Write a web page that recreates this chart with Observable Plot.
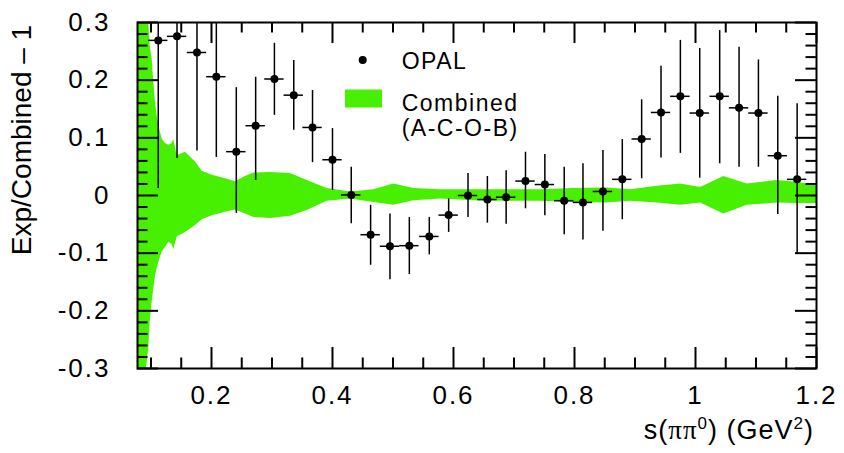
<!DOCTYPE html>
<html><head><meta charset="utf-8">
<script src="https://cdn.jsdelivr.net/npm/d3@7"></script>
<script src="https://cdn.jsdelivr.net/npm/@observablehq/plot@0.6"></script>
<style>
html,body{margin:0;padding:0;background:#fff;}
svg text{font-family:"Liberation Sans",Arial,Helvetica,sans-serif;}
</style></head><body><div id="chart"></div>
<script>
// OPAL points: bin centre, value, error-bar bottom, error-bar top
const opalX  = [0.112,0.143,0.176,0.208,0.241,0.273,0.304,0.336,0.367,0.400,0.431,0.463,0.495,0.527,0.560,0.592,0.624,0.656,0.687,0.719,0.751,0.783,0.814,0.847,0.879,0.911,0.943,0.975,1.007,1.040,1.072,1.104,1.136,1.168];
const opalY  = [0.269,0.276,0.248,0.206,0.076,0.121,0.202,0.174,0.118,0.062,0.001,-0.068,-0.088,-0.087,-0.071,-0.034,0.000,-0.007,-0.003,0.025,0.019,-0.009,-0.012,0.007,0.028,0.098,0.144,0.172,0.143,0.172,0.152,0.143,0.069,0.028];
const opalLo = [0.012,0.064,0.077,0.066,-0.031,0.026,0.139,0.113,0.057,0.009,-0.049,-0.121,-0.146,-0.137,-0.103,-0.064,-0.038,-0.048,-0.050,-0.023,-0.035,-0.068,-0.077,-0.062,-0.042,0.029,0.065,0.073,0.030,0.055,0.049,0.049,-0.033,-0.100];
const opalHi = [0.526,0.488,0.419,0.346,0.187,0.205,0.264,0.234,0.182,0.116,0.049,-0.017,-0.032,-0.038,-0.038,-0.006,0.038,0.033,0.043,0.075,0.071,0.049,0.055,0.078,0.097,0.166,0.224,0.269,0.255,0.286,0.257,0.235,0.172,0.159];
const opalHalfBin = 0.016;

// Combined (A-C-O-B) uncertainty band
const bandX  = [0.0777,0.0926,0.0964,0.0986,0.1019,0.1046,0.1074,0.1101,0.1129,0.1184,0.1239,0.1294,0.1350,0.1377,0.1433,0.157,0.1736,0.1846,0.2012,0.2231,0.2397,0.256,0.270,0.2975,0.3306,0.3582,0.3912,0.4298,0.4683,0.5013,0.5344,0.5785,0.6336,0.6888,0.7438,0.7989,0.854,0.8926,0.9367,0.9752,1.0083,1.0468,1.0855,1.135,1.168,1.2];
const bandLo = [-0.3,-0.3,-0.265,-0.22,-0.185,-0.162,-0.14,-0.127,-0.116,-0.098,-0.09,-0.081,-0.085,-0.094,-0.072,-0.064,-0.052,-0.042,-0.035,-0.029,-0.025,-0.032,-0.038,-0.04,-0.036,-0.026,-0.01,-0.006,-0.012,-0.017,-0.009,-0.006,-0.009,-0.01,-0.01,-0.012,-0.013,-0.01,-0.013,-0.017,-0.013,-0.032,-0.017,-0.013,-0.014,-0.014];
const bandHi = [0.3,0.3,0.3,0.26,0.237,0.196,0.162,0.139,0.121,0.098,0.09,0.087,0.09,0.097,0.069,0.075,0.058,0.042,0.035,0.029,0.024,0.033,0.039,0.04,0.038,0.026,0.012,0.006,0.01,0.02,0.012,0.01,0.01,0.01,0.01,0.012,0.013,0.01,0.016,0.02,0.014,0.033,0.02,0.026,0.023,0.017];

const xMajor = [0.2,0.4,0.6,0.8,1,1.2];
const xTickLabels = ["0.2","0.4","0.6","0.8","1","1.2"];
const xMinor = [0.1,0.15,0.25,0.3,0.35,0.45,0.5,0.55,0.65,0.7,0.75,0.85,0.9,0.95,1.05,1.1,1.15];
const yMajor = [-0.3,-0.2,-0.1,0,0.1,0.2,0.3];
const yTickLabels = ["-0.3","-0.2","-0.1","0","0.1","0.2","0.3"];
const yMinor = [-0.28,-0.26,-0.24,-0.22,-0.18,-0.16,-0.14,-0.12,-0.08,-0.06,-0.04,-0.02,0.02,0.04,0.06,0.08,0.12,0.14,0.16,0.18,0.22,0.24,0.26,0.28];
const xDomain = [0.0777, 1.2];
const yDomain = [-0.3, 0.3];
const green = "#47f000";

const W = 844, H = 453, mL = 137, mR = 28, mT = 22, mB = 85;
const fw = W - mL - mR, fh = H - mT - mB;
const majLen = 21, minLen = 10.5;

const opal = opalX.map((x, i) => ({x, y: opalY[i], lo: opalLo[i], hi: opalHi[i], x1: x - opalHalfBin, x2: x + opalHalfBin}));
const band = bandX.map((x, i) => ({x, lo: bandLo[i], hi: bandHi[i]}));
const tk = {stroke: "black", strokeWidth: 2};

const plot = Plot.plot({
  width: W, height: H,
  marginLeft: mL, marginRight: mR, marginTop: mT, marginBottom: mB,
  style: {fontSize: "26px", fontFamily: "'Liberation Sans', Arial, sans-serif", background: "white", color: "black", letterSpacing: "2px", overflow: "visible"},
  x: {domain: xDomain, ticks: xMajor, tickFormat: d => xTickLabels[xMajor.indexOf(d)], tickSize: 0, tickPadding: 17.5, label: null},
  y: {domain: yDomain, ticks: yMajor, tickFormat: d => yTickLabels[yMajor.indexOf(d)], tickSize: 0, tickPadding: 27, label: null, clamp: true},
  marks: [
    Plot.areaY(band, {x: "x", y1: "lo", y2: "hi", fill: green}),
    Plot.ruleX(opal, {x: "x", y1: "lo", y2: "hi", stroke: "black", strokeWidth: 1.5}),
    Plot.ruleY(opal, {y: "y", x1: "x1", x2: "x2", stroke: "black", strokeWidth: 1.5}),
    Plot.dot(opal, {x: "x", y: "y", r: 4, fill: "black"}),
    Plot.tickX(xMajor, {x: d => d, insetTop: fh - majLen, ...tk}),
    Plot.tickX(xMajor, {x: d => d, insetBottom: fh - majLen, ...tk}),
    Plot.tickX(xMinor, {x: d => d, insetTop: fh - minLen, ...tk}),
    Plot.tickX(xMinor, {x: d => d, insetBottom: fh - minLen, ...tk}),
    Plot.tickY(yMajor, {y: d => d, insetRight: fw - majLen, ...tk}),
    Plot.tickY(yMajor, {y: d => d, insetLeft: fw - majLen, ...tk}),
    Plot.tickY(yMinor, {y: d => d, insetRight: fw - minLen, ...tk}),
    Plot.tickY(yMinor, {y: d => d, insetLeft: fw - minLen, ...tk}),
    Plot.frame({stroke: "black", strokeWidth: 2})
  ]
});
document.getElementById("chart").appendChild(plot);

const svg = d3.select(plot);
// Legend
const lg = svg.append("g").attr("font-size", 23).attr("letter-spacing", "1.5px").attr("fill", "black").attr("text-anchor", "start");
lg.append("circle").attr("cx", 362.7).attr("cy", 60).attr("r", 4).attr("fill", "black");
lg.append("text").attr("x", 401.7).attr("y", 61.3).attr("dy", "0.35em").text("OPAL");
lg.append("rect").attr("x", 345).attr("y", 89.5).attr("width", 37).attr("height", 18).attr("fill", green);
lg.append("text").attr("x", 401.7).attr("y", 102.5).attr("dy", "0.35em").text("Combined");
lg.append("text").attr("x", 401.7).attr("y", 127.5).attr("dy", "0.35em").text("(A-C-O-B)");

// Y axis title
svg.append("text").attr("transform", "translate(31,140) rotate(-90)")
  .attr("text-anchor", "middle").attr("font-size", 28).attr("letter-spacing", "0px").attr("fill", "black")
  .text("Exp/Combined \u2013 1");

// X axis title
const xt = svg.append("text").attr("x", 814).attr("y", 439).attr("text-anchor", "end")
  .attr("font-size", 27).attr("letter-spacing", "1px").attr("fill", "black");
xt.append("tspan").text("s(");
xt.append("tspan").attr("font-family", "'Liberation Serif', 'Times New Roman', serif").text("\u03c0\u03c0");
xt.append("tspan").attr("font-size", 17).attr("dy", -10).text("0");
xt.append("tspan").attr("dy", 10).text(") (GeV");
xt.append("tspan").attr("font-size", 17).attr("dy", -10).text("2");
xt.append("tspan").attr("dy", 10).text(")");
</script></body></html>
